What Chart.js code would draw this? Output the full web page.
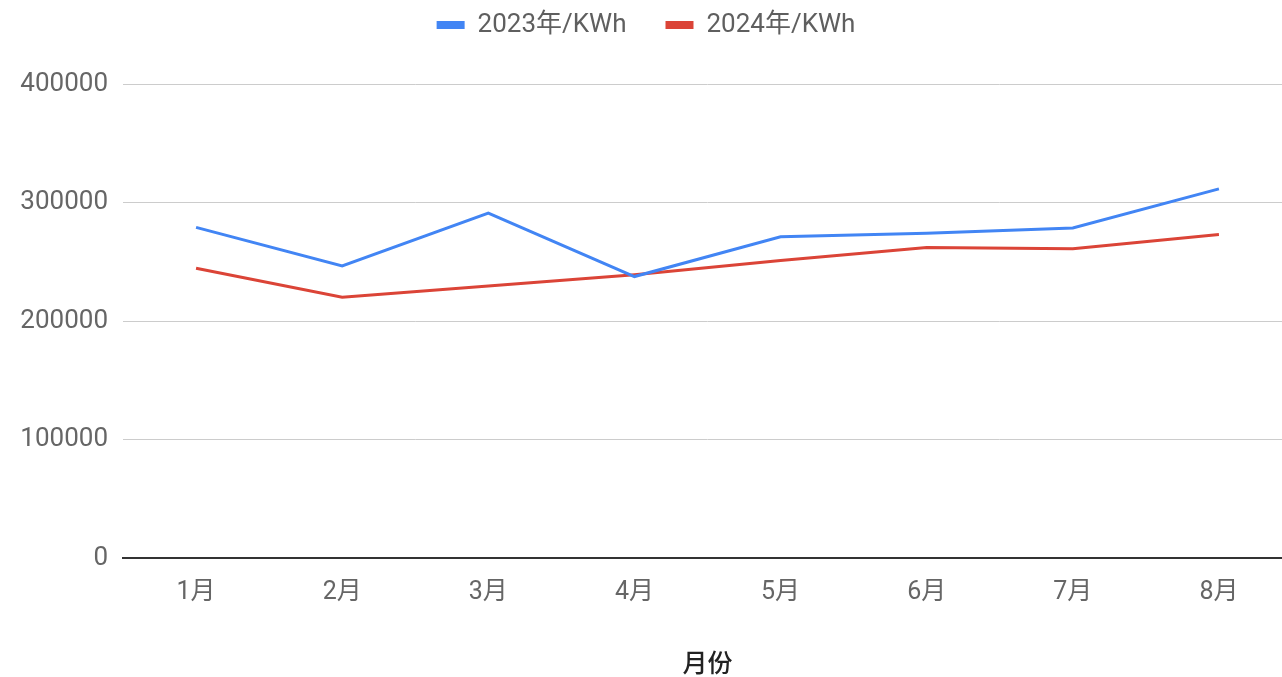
<!DOCTYPE html>
<html>
<head>
<meta charset="utf-8">
<script src="https://cdn.jsdelivr.net/npm/chart.js@4"></script>
<style>
    html, body { margin: 0; padding: 0; background: #fff; overflow: hidden; }
    #wrap { width: 1292px; height: 677px; }
</style>
</head>
<body>
<div id="wrap"><canvas id="chart"></canvas></div>
<script>
const months = ["1月", "2月", "3月", "4月", "5月", "6月", "7月", "8月"];
const usage2023 = [279000, 246500, 291000, 237500, 271000, 274000, 278500, 311500];
const usage2024 = [244500, 220000, 229500, 239000, 251000, 262000, 261000, 273000];
const yTicks = [0, 100000, 200000, 300000, 400000];

const fontFamily = "Roboto, 'Noto Sans CJK SC', sans-serif";

// keep the legend box tall so the plot starts where the reference does
const legendHeight = {
    id: "legendHeight",
    beforeInit(chart) {
        const fit = chart.legend.fit;
        chart.legend.fit = function () {
            fit.bind(chart.legend)();
            this.height = 111;
        };
    }
};

const data = {
    labels: months,
    datasets: [
        {
            label: "2023年/KWh",
            data: usage2023,
            borderColor: "#4285F4",
            backgroundColor: "#4285F4",
            borderWidth: 3,
            pointRadius: 0,
            tension: 0,
            fill: false
        },
        {
            label: "2024年/KWh",
            data: usage2024,
            borderColor: "#DB4437",
            backgroundColor: "#DB4437",
            borderWidth: 3,
            pointRadius: 0,
            tension: 0,
            fill: false
        }
    ]
};

const options = {
    responsive: true,
    maintainAspectRatio: false,
    animation: false,
    layout: { padding: { top: -27, left: 0, right: 0, bottom: 0 } },
    plugins: {
        tooltip: { enabled: false },
        legend: {
            position: "top",
            labels: {
                color: "#5f5f5f",
                font: { family: fontFamily, size: 26 },
                boxWidth: 28,
                boxHeight: 8,
                padding: 39,
                generateLabels(chart) {
                    const items = Chart.defaults.plugins.legend.labels.generateLabels(chart);
                    items.forEach(item => { item.lineWidth = 0; });
                    return items;
                }
            }
        }
    },
    scales: {
        x: {
            offset: true,
            grid: { display: false, drawTicks: false, offset: true },
            border: { color: "#333", width: 2 },
            ticks: {
                color: "#666",
                font: { family: fontFamily, size: 25 },
                padding: 20
            },
            title: {
                display: true,
                text: "月份",
                color: "#222",
                font: { family: fontFamily, size: 25, weight: "500", lineHeight: 0.9 },
                padding: { top: 0, bottom: 0 }
            },
            afterFit(scale) { scale.height = 119; }
        },
        y: {
            min: 0,
            max: 400000,
            grid: {
                color: ctx => ctx.tick && ctx.tick.value === 0 ? "#333" : "#cccccc",
                lineWidth: 1,
                drawTicks: false
            },
            border: { display: false },
            afterBuildTicks(scale) {
                scale.ticks = yTicks.map(v => ({ value: v }));
            },
            ticks: {
                color: "#666",
                font: { family: fontFamily, size: 26 },
                padding: 15,
                callback: value => String(value)
            },
            afterFit(scale) { scale.width = 123; }
        }
    }
};

new Chart(document.getElementById("chart"), {
    type: "line",
    data,
    options,
    plugins: [legendHeight]
});
</script>
</body>
</html>
